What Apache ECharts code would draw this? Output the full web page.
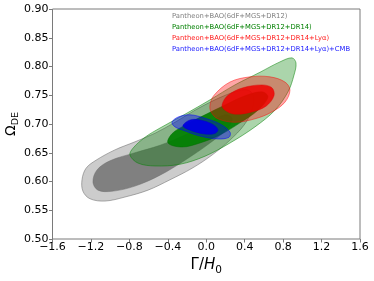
<!DOCTYPE html>
<html><head><meta charset="utf-8">
<script src="https://cdn.jsdelivr.net/npm/echarts@6/dist/echarts.min.js"></script>
<style>html,body{margin:0;padding:0;background:#fff}#c{width:374px;height:281px}</style>
</head><body><div id="c"></div>
<script>
// ---- data ----
const xTickLabels = ['\u22121.6','\u22121.2','\u22120.8','\u22120.4','0.0','0.4','0.8','1.2','1.6'];
const yTickLabels = ['0.50','0.55','0.60','0.65','0.70','0.75','0.80','0.85','0.90'];
const legendLabels = [
  'Pantheon+BAO(6dF+MGS+DR12)',
  'Pantheon+BAO(6dF+MGS+DR12+DR14)',
  'Pantheon+BAO(6dF+MGS+DR12+DR14+Ly\u03b1)',
  'Pantheon+BAO(6dF+MGS+DR12+DR14+Ly\u03b1)+CMB'
];
// contour outlines [Gamma/H0, Omega_DE]
const gray2 = [[-1.293,0.603],[-1.251,0.623],[-1.147,0.637],[-0.950,0.655],[-0.742,0.669],[-0.533,0.684],[-0.325,0.703],[-0.117,0.724],[0.091,0.742],[0.299,0.756],[0.434,0.759],[0.497,0.747],[0.476,0.724],[0.393,0.698],[0.247,0.672],[0.060,0.646],[-0.148,0.623],[-0.377,0.603],[-0.606,0.585],[-0.846,0.573],[-1.054,0.566],[-1.210,0.570],[-1.283,0.583]];
const gray1 = [[-1.179,0.599],[-1.137,0.620],[-1.002,0.636],[-0.742,0.650],[-0.481,0.663],[-0.221,0.681],[0.039,0.703],[0.195,0.716],[0.268,0.710],[0.226,0.693],[0.039,0.667],[-0.221,0.637],[-0.481,0.611],[-0.742,0.592],[-0.981,0.583],[-1.127,0.585]];
const green2 = [[-0.794,0.646],[-0.762,0.658],[-0.637,0.677],[-0.481,0.693],[-0.221,0.717],[0.039,0.742],[0.299,0.768],[0.559,0.790],[0.767,0.808],[0.892,0.815],[0.934,0.806],[0.913,0.785],[0.851,0.756],[0.715,0.724],[0.507,0.695],[0.247,0.667],[-0.013,0.644],[-0.273,0.630],[-0.533,0.627],[-0.710,0.632]];
const green1 = [[-0.398,0.667],[-0.357,0.683],[-0.221,0.698],[-0.013,0.716],[0.195,0.733],[0.403,0.749],[0.580,0.756],[0.642,0.747],[0.538,0.724],[0.351,0.702],[0.143,0.681],[-0.065,0.667],[-0.252,0.660]];
const red2 = [[0.039,0.733],[0.081,0.750],[0.247,0.773],[0.455,0.782],[0.663,0.782],[0.819,0.773],[0.871,0.759],[0.819,0.738],[0.684,0.721],[0.507,0.709],[0.299,0.703],[0.122,0.709],[0.050,0.721]];
const red1 = [[0.164,0.733],[0.226,0.750],[0.382,0.763],[0.580,0.768],[0.684,0.763],[0.705,0.749],[0.622,0.731],[0.476,0.721],[0.299,0.717],[0.195,0.724]];
const blue2 = [[-0.357,0.703],[-0.294,0.712],[-0.169,0.716],[-0.013,0.710],[0.143,0.700],[0.247,0.686],[0.237,0.677],[0.122,0.674],[-0.065,0.679],[-0.221,0.688],[-0.325,0.695]];
const blue1 = [[-0.242,0.698],[-0.169,0.707],[-0.065,0.707],[0.060,0.700],[0.122,0.690],[0.081,0.683],[-0.034,0.683],[-0.148,0.688],[-0.221,0.693]];

// ---- styles ----
const legendColors = ['#808080','#008000','#ff1a1a','#1a1aff'];
const FONT = 'DejaVu Sans';
const AX = '#7a7a7a';

function contour(pts, fill, stroke, lw) {
  return {
    type: 'custom', coordinateSystem: 'cartesian2d', data: pts, encode: {x: 0, y: 1},
    silent: true, animation: false,
    renderItem: function (params, api) {
      if (params.dataIndex !== 0) return null;
      const p = pts.map(d => api.coord(d));
      return {type: 'polygon', shape: {points: p, smooth: 0.35},
        style: {fill: fill, stroke: stroke, lineWidth: lw}};
    }
  };
}

const chart = echarts.init(document.getElementById('c'), null, {renderer: 'canvas'});
const titles = legendLabels.map((t, i) => ({
  text: t, left: 172, top: 13 + i * 10.9, padding: 0,
  textStyle: {color: legendColors[i], fontSize: 6.8, fontWeight: 'normal', fontFamily: FONT}
}));

chart.setOption({
  animation: false,
  backgroundColor: '#fff',
  title: titles,
  grid: {left: 52.5, right: 14, top: 9, bottom: 42, containLabel: false, outerBoundsMode: 'none',
    show: true, borderColor: AX, borderWidth: 1, backgroundColor: 'transparent'},
  xAxis: {
    type: 'value', min: -1.6, max: 1.6, interval: 0.4, position: 'bottom',
    axisLine: {show: false, onZero: false},
    axisTick: {show: true, length: 3.5, lineStyle: {color: AX, width: 1}},
    splitLine: {show: false},
    axisLabel: {margin: 3, color: '#000', fontFamily: FONT, fontSize: 11,
      formatter: (v, i) => xTickLabels[i]},
    name: '{g|\u0393/}{h|H}{s|0}', nameLocation: 'middle', nameGap: 18.5, nameMoveOverlap: false,
    nameTextStyle: {rich: {
      g: {fontSize: 15, fontFamily: FONT, color: '#000', lineHeight: 16, verticalAlign: 'top'},
      h: {fontSize: 15, fontFamily: FONT, fontStyle: 'italic', color: '#000', lineHeight: 16, verticalAlign: 'top'},
      s: {fontSize: 10.5, fontFamily: FONT, color: '#000', lineHeight: 11, padding: [7, 0, 0, 0], verticalAlign: 'top'}
    }}
  },
  yAxis: {
    type: 'value', min: 0.5, max: 0.9, interval: 0.05, position: 'left',
    axisLine: {show: false, onZero: false},
    axisTick: {show: true, length: 3.5, lineStyle: {color: AX, width: 1}},
    splitLine: {show: false},
    axisLabel: {margin: 4, color: '#000', fontFamily: FONT, fontSize: 11,
      formatter: (v, i) => yTickLabels[i]},
    name: '{a|\u03a9}{b|DE}', nameLocation: 'middle', nameRotate: 90, nameGap: 33, nameMoveOverlap: false,
    nameTextStyle: {rich: {
      a: {fontSize: 14, fontFamily: FONT, color: '#000', lineHeight: 15, verticalAlign: 'top'},
      b: {fontSize: 9.5, fontFamily: FONT, color: '#000', lineHeight: 10, padding: [6, 0, 0, 0], verticalAlign: 'top'}
    }}
  },
  series: [
    contour(gray2, 'rgba(128,128,128,0.4)', 'rgba(110,110,110,0.55)', 1),
    contour(gray1, 'rgba(128,128,128,1)', 'rgba(110,110,110,0.6)', 0.8),
    contour(green2, 'rgba(0,128,0,0.33)', 'rgba(0,128,0,0.5)', 1),
    contour(green1, 'rgba(0,128,0,0.92)', 'rgba(0,110,0,0.6)', 0.8),
    contour(red2, 'rgba(255,0,0,0.35)', 'rgba(255,0,0,0.45)', 1),
    contour(red1, 'rgba(240,0,0,0.85)', 'rgba(220,0,0,0.5)', 0.8),
    contour(blue2, 'rgba(0,0,255,0.4)', 'rgba(0,0,255,0.5)', 1),
    contour(blue1, 'rgba(0,0,225,0.95)', 'rgba(0,0,200,0.6)', 0.8)
  ]
});
</script></body></html>
